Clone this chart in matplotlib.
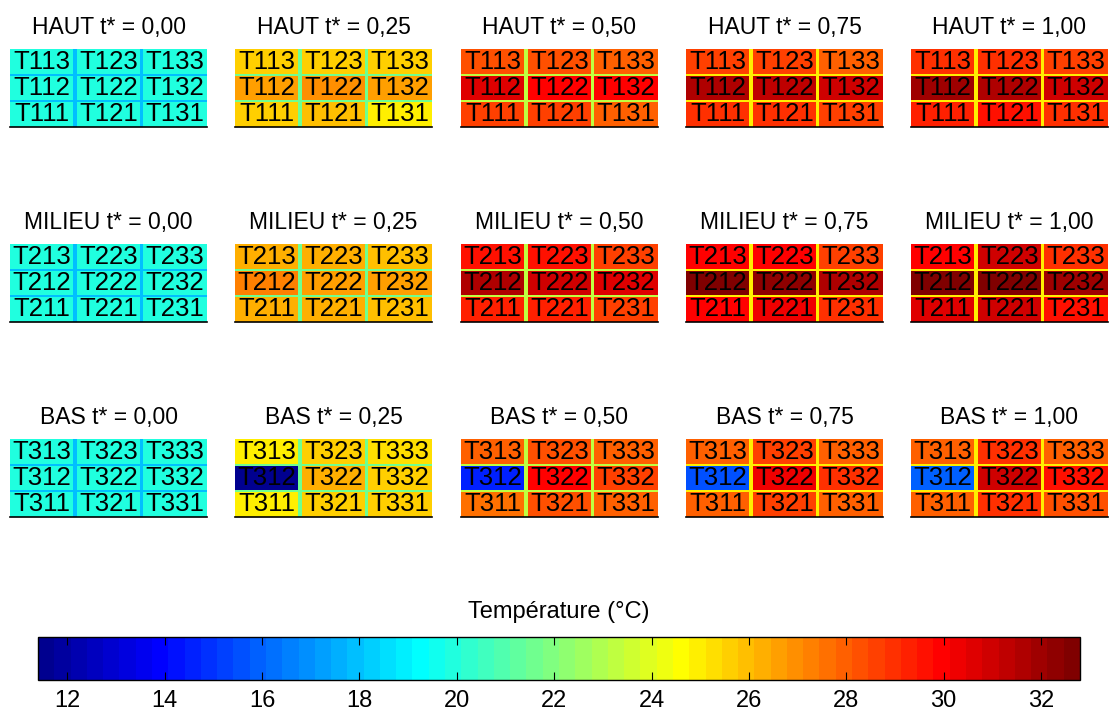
import numpy as np
import matplotlib.pyplot as plt
from matplotlib.colors import Normalize, ListedColormap
from matplotlib.cm import ScalarMappable

plt.rcParams['font.family'] = ['Liberation Sans', 'DejaVu Sans']

# temperatures (°C), one 3x3 block per time step, rows listed top (k=3) to bottom (k=1)
levels = ["HAUT", "MILIEU", "BAS"]
t_labels = ["0,00", "0,25", "0,50", "0,75", "1,00"]

haut = [
    [[20.0, 20.0, 20.0], [20.0, 20.0, 20.0], [20.0, 20.0, 20.0]],
    [[25.6, 25.6, 25.5], [26.7, 26.8, 26.6], [25.6, 25.8, 25.1]],
    [[28.3, 28.3, 28.0], [30.7, 30.1, 29.9], [28.5, 28.5, 27.9]],
    [[28.5, 28.5, 28.1], [31.7, 31.4, 30.9], [29.1, 29.1, 28.5]],
    [[28.8, 29.0, 28.5], [32.0, 31.6, 30.9], [29.3, 29.5, 29.1]],
]
milieu = [
    [[20.0, 20.0, 20.0], [20.0, 20.0, 20.0], [20.0, 20.0, 20.0]],
    [[26.3, 26.2, 25.8], [27.2, 26.5, 26.7], [26.2, 26.2, 25.8]],
    [[29.5, 29.5, 28.5], [31.6, 30.9, 30.7], [29.4, 29.3, 28.5]],
    [[29.9, 29.9, 28.5], [32.5, 32.3, 31.7], [29.9, 30.4, 29.1]],
    [[30.1, 30.9, 29.1], [32.8, 32.8, 32.0], [30.6, 30.9, 29.6]],
]
bas = [
    [[20.0, 20.0, 20.0], [20.0, 20.0, 20.0], [20.0, 20.0, 20.0]],
    [[25.1, 25.5, 25.2], [11.4, 26.2, 25.6], [24.8, 25.6, 25.6]],
    [[27.9, 28.3, 27.9], [14.6, 29.9, 28.5], [27.7, 28.3, 27.9]],
    [[27.9, 28.5, 27.9], [15.6, 30.4, 29.1], [27.9, 28.5, 28.0]],
    [[28.1, 29.1, 28.1], [15.8, 30.9, 29.5], [28.0, 28.8, 28.2]],
]
# temperature seen between the cells
separator = [17.8, 21.6, 23.4, 24.8, 24.9]

# MATLAB-style jet(64)
n, m = 64, 16
u = np.concatenate([np.arange(1, m + 1) / m, np.ones(m - 1), np.arange(m, 0, -1) / m])
g = 8 + np.arange(1, len(u) + 1)
r = g + m
b = g - m
J = np.zeros((n, 3))
J[r[r <= n] - 1, 0] = u[r <= n]
J[g[g <= n] - 1, 1] = u[g <= n]
J[b[b >= 1] - 1, 2] = u[b >= 1]
cmap = ListedColormap(J)
norm = Normalize(11.4, 32.8)

fig = plt.figure(figsize=(11.12, 7.13), dpi=100)
W, H = 1112, 713

lefts = [10, 235, 461, 686, 911]
bottoms = [127, 322, 517]
xe = [0, 0.322, 0.338, 0.661, 0.677, 1]
ye = [0, 0.326, 0.340, 0.660, 0.674, 1]

for i, (name, data) in enumerate(zip(levels, [haut, milieu, bas])):
    for j in range(5):
        ax = fig.add_axes([lefts[j] / W, 1 - bottoms[i] / H, 197 / W, 78 / H])
        vals = np.array(data[j])[::-1]
        Z = np.full((5, 5), separator[j])
        Z[0::2, 0::2] = vals
        ax.pcolormesh(xe, ye, Z, cmap=cmap, norm=norm)
        for rr in range(3):
            for c in range(3):
                ax.text((xe[2 * c] + xe[2 * c + 1]) / 2, (ye[2 * rr] + ye[2 * rr + 1]) / 2,
                        f"T{i + 1}{c + 1}{rr + 1}", ha='center', va='center', fontsize=18.5)
        ax.set_title(f"{name} t* = {t_labels[j]}", fontsize=16.5, pad=11)
        ax.set_xlim(0, 1)
        ax.set_ylim(0, 1)
        ax.set_xticks([])
        ax.set_yticks([])
        for s in ['top', 'right', 'left']:
            ax.spines[s].set_visible(False)
        ax.spines['bottom'].set_linewidth(1.2)

cax = fig.add_axes([38 / W, 1 - 680 / H, 1042 / W, 43 / H])
cb = fig.colorbar(ScalarMappable(norm=norm, cmap=cmap), cax=cax,
                  orientation='horizontal', ticks=range(12, 33, 2))
cb.set_label("Température (°C)", fontsize=17, labelpad=14)
cb.ax.xaxis.set_label_position('top')
cb.ax.tick_params(direction='in', top=True, bottom=True, length=6, labelsize=17, pad=7)
cb.outline.set_linewidth(1)

fig.savefig("out.png", dpi=100)
